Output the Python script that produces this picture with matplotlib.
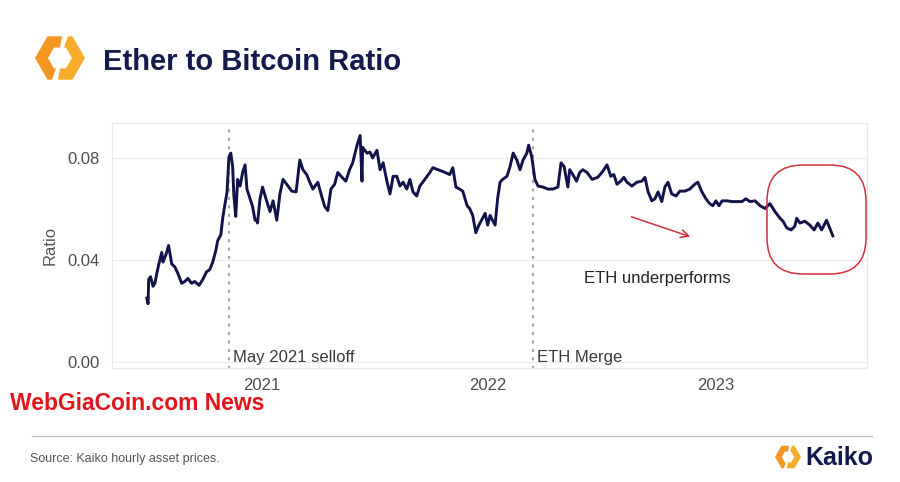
import matplotlib
matplotlib.use("Agg")
import matplotlib.pyplot as plt
import matplotlib.dates as mdates
from matplotlib.patches import Polygon, FancyBboxPatch
import pandas as pd

plt.rcParams['font.family'] = ['Liberation Sans', 'DejaVu Sans']

# ETH/BTC ratio (days since start date)
start = pd.Timestamp("2020-07-01")
days = [
    0, 2, 3, 6, 10, 13, 16, 19, 24, 26, 31, 35, 40, 45, 50, 56, 61, 66, 72, 77,
    84, 90, 96, 101, 106, 111, 114, 119, 122, 125, 129, 132, 135, 138, 140, 143,
    146, 150, 154, 158, 161, 166, 170, 174, 177, 178, 182, 186, 193, 198, 203,
    209, 214, 219, 225, 233, 240, 246, 251, 257, 262, 267, 275, 281, 286, 291,
    296, 302, 307, 314, 320, 326, 331, 338, 343, 346, 347, 354, 359, 363, 370,
    375, 380, 386, 391, 396, 402, 407, 412, 418, 423, 428, 434, 439, 447, 455,
    460, 468, 476, 487, 492, 497, 503, 508, 515, 519, 524, 529, 534, 540, 544,
    548, 552, 555, 560, 564, 568, 572, 579, 584, 589, 595, 600, 605, 611, 614,
    619, 624, 629, 637, 645, 653, 661, 666, 671, 677, 680, 685, 691, 696, 701,
    708, 716, 725, 733, 740, 746, 751, 756, 762, 767, 772, 780, 788, 796, 801,
    806, 812, 817, 822, 828, 833, 838, 844, 851, 857, 865, 873, 881, 886, 892,
    899, 905, 910, 915, 920, 925, 933, 941, 949, 957, 963, 970, 978, 986, 994,
    1002, 1010, 1018, 1023, 1029, 1036, 1042, 1045, 1050, 1058, 1066, 1073,
    1079, 1085, 1093, 1098, 1103,
]
ratio = [
    0.0251, 0.0229, 0.0324, 0.0335, 0.0297, 0.0309, 0.0347, 0.0381, 0.0430,
    0.0392, 0.0423, 0.0457, 0.0385, 0.0373, 0.0347, 0.0309, 0.0316, 0.0328,
    0.0309, 0.0316, 0.0301, 0.0324, 0.0354, 0.0362, 0.0392, 0.0438, 0.0476,
    0.0499, 0.0564, 0.0610, 0.0667, 0.0804, 0.0819, 0.0766, 0.0651, 0.0571,
    0.0716, 0.0690, 0.0743, 0.0773, 0.0678, 0.0640, 0.0610, 0.0556, 0.0556,
    0.0545, 0.0640, 0.0686, 0.0629, 0.0590, 0.0632, 0.0556, 0.0659, 0.0716,
    0.0697, 0.0670, 0.0667, 0.0792, 0.0754, 0.0735, 0.0705, 0.0678, 0.0705,
    0.0651, 0.0610, 0.0594, 0.0678, 0.0697, 0.0743, 0.0724, 0.0709, 0.0754,
    0.0781, 0.0850, 0.0888, 0.0709, 0.0842, 0.0819, 0.0823, 0.0800, 0.0830,
    0.0754, 0.0781, 0.0709, 0.0659, 0.0728, 0.0728, 0.0690, 0.0705, 0.0678,
    0.0716, 0.0667, 0.0651, 0.0690, 0.0716, 0.0743, 0.0762, 0.0754, 0.0747,
    0.0735, 0.0762, 0.0686, 0.0678, 0.0670, 0.0613, 0.0602, 0.0575, 0.0507,
    0.0537, 0.0564, 0.0583, 0.0537, 0.0575, 0.0560, 0.0537, 0.0640, 0.0705,
    0.0716, 0.0728, 0.0766, 0.0819, 0.0792, 0.0754, 0.0792, 0.0819, 0.0850,
    0.0804, 0.0716, 0.0690, 0.0686, 0.0678, 0.0678, 0.0686, 0.0781, 0.0766,
    0.0686, 0.0754, 0.0735, 0.0709, 0.0743, 0.0754, 0.0743, 0.0716, 0.0724,
    0.0747, 0.0773, 0.0728, 0.0735, 0.0697, 0.0709, 0.0724, 0.0705, 0.0690,
    0.0705, 0.0709, 0.0724, 0.0667, 0.0632, 0.0640, 0.0667, 0.0629, 0.0686,
    0.0705, 0.0659, 0.0651, 0.0670, 0.0670, 0.0678, 0.0697, 0.0705, 0.0670,
    0.0640, 0.0621, 0.0613, 0.0632, 0.0613, 0.0632, 0.0632, 0.0629, 0.0629,
    0.0629, 0.0640, 0.0629, 0.0632, 0.0613, 0.0602, 0.0621, 0.0590, 0.0564,
    0.0552, 0.0526, 0.0518, 0.0533, 0.0564, 0.0545, 0.0552, 0.0537, 0.0518,
    0.0545, 0.0518, 0.0556, 0.0526, 0.0495,
]

event_dates = ["2020-11-10", "2022-03-14"]
event_labels = ["May 2021 selloff", "ETH Merge"]
year_ticks = ["2021", "2022", "2023"]
y_ticks = [0.00, 0.04, 0.08]

dates = mdates.date2num(start + pd.to_timedelta(days, unit="D"))


def dnum(d):
    return mdates.date2num(pd.Timestamp(d))


NAVY = "#11134a"
GREY = "#555555"
RED = "#d0313a"

fig = plt.figure(figsize=(9, 4.82), dpi=100)
fig.patch.set_facecolor("white")

ax = fig.add_axes([112 / 900, 1 - 368 / 482, 755 / 900, 245 / 482])
ax.plot(dates, ratio, color=NAVY, lw=2.1, solid_joinstyle="round")

for d, lab in zip(event_dates, event_labels):
    x = dnum(d)
    ax.axvline(x, color="#a6a6a6", lw=1.6, linestyle=(0, (0.6, 3.2)),
               dash_capstyle="round", zorder=1)
    ax.annotate(lab, xy=(x, 0.041), xycoords=ax.get_xaxis_transform(),
                xytext=(3, 0), textcoords="offset points",
                va="center", ha="left", fontsize=12, color="#3a3a3a")

ax.set_xlim(dnum("2020-05-06"), dnum("2023-09-02"))
ax.set_ylim(-0.0023, 0.0937)
ax.set_xticks([dnum(y + "-01-01") for y in year_ticks])
ax.set_xticklabels(year_ticks)
ax.set_yticks(y_ticks)
ax.set_yticklabels([f"{v:.2f}" for v in y_ticks])
ax.tick_params(length=0, labelsize=12, labelcolor="#4d4d4d")
ax.tick_params(axis="x", pad=7)
ax.tick_params(axis="y", pad=9)
ax.grid(axis="y", color="#ededed", lw=0.9)
ax.set_axisbelow(True)
for s in ax.spines.values():
    s.set_color("#e8e8e8")
    s.set_linewidth(0.9)

ax.set_ylabel("Ratio", fontsize=12, color=GREY)
ax.yaxis.set_label_coords(-0.072, 0.5)

ax.text(dnum(start + pd.Timedelta(days=703)), 0.0327, "ETH underperforms",
        fontsize=12, color="#222222", va="center", ha="left")
ax.annotate("", xy=(dnum(start + pd.Timedelta(days=878)), 0.0488),
            xytext=(dnum(start + pd.Timedelta(days=775)), 0.0573),
            arrowprops=dict(arrowstyle="->", color=RED, lw=1.1,
                            mutation_scale=14))

# overlay in pixel coordinates for decorations
ov = fig.add_axes([0, 0, 1, 1], zorder=5)
ov.set_xlim(0, 900)
ov.set_ylim(482, 0)
ov.axis("off")
ov.patch.set_alpha(0)

ov.add_patch(FancyBboxPatch((767, 165), 99, 109,
                            boxstyle="round,pad=0,rounding_size=36",
                            fill=False, ec=RED, lw=1.1))


def logo(cx, cy, s):
    # two hexagon halves, like the Kaiko mark
    left = [(2, 21.7), (-12.5, 21.7), (-25, 0), (-12.5, -21.7), (-8, -21.7),
            (-4, -10.4), (-6, -10.4), (-12, 0), (-6, 10.4), (0, 10.4)]
    right = [(-x, -y) for x, y in left]
    for pts, col in ((left, "#f59623"), (right, "#f7ad2b")):
        ov.add_patch(Polygon([(cx + x * s, cy - y * s) for x, y in pts],
                             closed=True, fc=col, ec="none"))


logo(60, 58, 1.0)
ov.text(103, 62, "Ether to Bitcoin Ratio", fontsize=21, fontweight="bold",
        color="#141a4c", va="center", ha="left")

ov.text(10, 404, "WebGiaCoin.com News", fontsize=16.5, fontweight="bold",
        color="#e3151c", va="center", ha="left")

ov.plot([32, 872], [436, 436], color="#bdbdbd", lw=1)
ov.text(30, 459, "Source: Kaiko hourly asset prices.", fontsize=9,
        color=GREY, va="center", ha="left")
logo(788, 457, 0.52)
ov.text(805, 458, "Kaiko", fontsize=18, fontweight="bold", color="#141a4c",
        va="center", ha="left")

fig.savefig("out.png", dpi=100)
